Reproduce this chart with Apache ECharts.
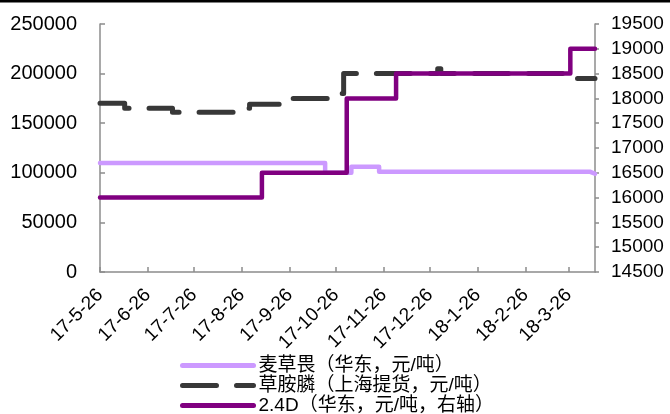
<!DOCTYPE html>
<html>
<head>
<meta charset="utf-8">
<script src="https://cdn.jsdelivr.net/npm/echarts@6/dist/echarts.min.js"></script>
<style>
html,body{margin:0;padding:0;background:#fff;}
#c{width:670px;height:414px;}
</style>
</head>
<body>
<div id="c"></div>
<script>
// ---- data (change points of step series) ----
const tickDates = ['2017-05-26','2017-06-26','2017-07-26','2017-08-26','2017-09-26','2017-10-26','2017-11-26','2017-12-26','2018-01-26','2018-02-26','2018-03-26'];
const axisStart = '2017-05-26';
const axisEnd = '2018-04-12';

const dicambaName = '麦草畏（华东，元/吨）';
const dicambaDates = ['2017-05-26','2017-10-19','2017-11-05','2017-11-23','2018-04-09','2018-04-12'];
const dicambaValues = [110000, 100000, 106000, 101000, 99000, 99000];

const glufosinateName = '草胺膦（上海提货，元/吨）';
const glufosinateDates = ['2017-05-26','2017-06-11','2017-07-12','2017-08-23','2017-08-31','2017-09-24','2017-10-24','2017-10-31','2017-12-31','2018-01-02','2018-03-30','2018-04-12'];
const glufosinateValues = [170000, 165000, 161000, 165000, 169000, 175000, 180000, 200000, 205000, 200000, 195000, 195000];

const d24Name = '2.4D（华东，元/吨，右轴）';
const d24Dates = ['2017-05-26','2017-09-08','2017-11-02','2017-12-04','2018-03-27','2018-04-12'];
const d24Values = [16000, 16500, 18000, 18500, 19000, 19000];

// ---- helpers: x is measured in days since axisStart ----
function ts(s){ const p = s.split('-').map(Number); return Date.UTC(p[0], p[1]-1, p[2]); }
const DAY = 86400000;
function dayOf(s){ return Math.round((ts(s) - ts(axisStart)) / DAY); }
function pairs(dates, vals){ return dates.map((d,i)=>[dayOf(d), vals[i]]); }
function fmt(v){ const d = new Date(ts(axisStart) + v * DAY); return (d.getUTCFullYear()%100)+'-'+(d.getUTCMonth()+1)+'-'+d.getUTCDate(); }
function plain(v){ return String(v); }

const FONT = '"Liberation Sans", Arial, "Noto Sans CJK SC", sans-serif';
const axisColor = '#8c8c8c';
const tickDays = tickDates.map(dayOf);

const chart = echarts.init(document.getElementById('c'));
chart.setOption({
  animation: false,
  backgroundColor: '#fff',
  textStyle: { fontFamily: FONT },
  graphic: [{ type: 'rect', left: 0, top: 0, shape: { width: 670, height: 2.5 }, style: { fill: '#000' }, silent: true }],
  grid: { left: 100, right: 75, top: 24, bottom: 142 },
  legend: {
    orient: 'vertical', left: 180, top: 356, height: 120, padding: 0,
    itemWidth: 71, itemHeight: 14, itemGap: 1,
    itemStyle: { opacity: 0 },
    lineStyle: { width: 5, cap: 'round' },
    textStyle: { fontSize: 19, lineHeight: 19, color: '#000', fontFamily: FONT },
    data: [dicambaName, glufosinateName, d24Name]
  },
  xAxis: {
    type: 'value', min: 0, max: dayOf(axisEnd),
    axisLine: { lineStyle: { color: axisColor, width: 1.5 } },
    axisTick: { show: true, inside: true, length: 5, lineStyle: { color: axisColor, width: 1.5 }, customValues: tickDays },
    axisLabel: { rotate: 45, margin: 20, fontSize: 19, color: '#000', fontFamily: FONT, customValues: tickDays, formatter: fmt },
    splitLine: { show: false }
  },
  yAxis: [{
    type: 'value', min: 0, max: 250000, interval: 50000, position: 'left',
    axisLine: { show: true, lineStyle: { color: axisColor, width: 1.5 } },
    axisTick: { show: true, inside: true, length: 5, lineStyle: { color: axisColor, width: 1.5 } },
    axisLabel: { margin: 23, fontSize: 20, color: '#000', fontFamily: FONT, formatter: plain },
    splitLine: { show: false }
  }, {
    type: 'value', min: 14500, max: 19500, interval: 500, position: 'right',
    axisLine: { show: true, lineStyle: { color: axisColor, width: 1.5 } },
    axisTick: { show: true, inside: false, length: 4, lineStyle: { color: axisColor, width: 1.5 } },
    axisLabel: { margin: 16, fontSize: 19, color: '#000', fontFamily: FONT, formatter: plain },
    splitLine: { show: false }
  }],
  series: [{
    name: dicambaName, type: 'line', step: 'end', yAxisIndex: 0,
    showSymbol: false, symbol: 'none',
    lineStyle: { color: '#cc99ff', width: 4.5, join: 'round', cap: 'round' },
    itemStyle: { color: '#cc99ff' },
    data: pairs(dicambaDates, dicambaValues)
  }, {
    name: glufosinateName, type: 'line', step: 'end', yAxisIndex: 0,
    showSymbol: false, symbol: 'none',
    lineStyle: { color: '#383838', width: 5, type: [34, 20], join: 'round', cap: 'round' },
    itemStyle: { color: '#383838' },
    data: pairs(glufosinateDates, glufosinateValues)
  }, {
    name: d24Name, type: 'line', step: 'end', yAxisIndex: 1,
    showSymbol: false, symbol: 'none',
    lineStyle: { color: '#800080', width: 4.5, join: 'round', cap: 'round' },
    itemStyle: { color: '#800080' },
    data: pairs(d24Dates, d24Values)
  }]
});
</script>
</body>
</html>
